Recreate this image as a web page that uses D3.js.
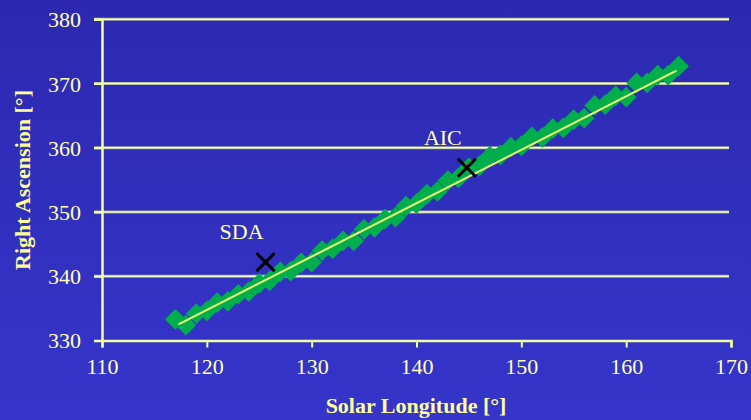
<!DOCTYPE html>
<html>
<head>
<meta charset="utf-8">
<script src="https://cdn.jsdelivr.net/npm/d3@7"></script>
<style>
  body { margin: 0; background: #3030c0; }
  svg { display: block; }
  text { font-family: "Liberation Serif", "Times New Roman", "DejaVu Serif", serif; }
</style>
</head>
<body>
<svg width="751" height="420"></svg>
<script>
// solar longitude vs right ascension
var solarLon = [117, 118, 119, 120, 121, 122, 123, 124, 125, 126, 127, 128, 129, 130,
    131, 132, 133, 134, 135, 136, 137, 138, 139, 140, 141, 142, 143, 144, 145, 146,
    147, 148, 149, 150, 151, 152, 153, 154, 155, 156, 157, 158, 159, 160, 161, 162,
    163, 164, 165];
var rightAsc = [333.3, 332.4, 334.2, 334.6, 335.9, 336.1, 337.2, 337.6, 338.9, 339.3,
    340.7, 340.8, 342.1, 342.2, 344.0, 344.3, 345.5, 345.5, 347.3, 347.6, 348.9, 349.2,
    350.9, 351.3, 352.8, 353.2, 354.9, 355.3, 356.9, 357.2, 358.7, 358.9, 360.1, 360.3,
    361.7, 361.6, 363.0, 363.1, 364.4, 364.6, 366.6, 366.7, 368.1, 367.9, 370.1, 370.1,
    371.3, 371.3, 372.7];

// linear fit end points
var fitLon = [117.3, 164.8];
var fitAsc = [332.5, 372.0];

// showers
var showerNames = ["SDA", "AIC"];
var showerLon = [125.6, 144.8];
var showerAsc = [342.2, 356.9];

var xTicks = [110, 120, 130, 140, 150, 160, 170];
var yTicks = [330, 340, 350, 360, 370, 380];

var svg = d3.select("svg"),
    width = +svg.attr("width"),
    height = +svg.attr("height");

var serif = "Liberation Serif, Times New Roman, DejaVu Serif, serif";

// background gradient
var defs = svg.append("defs");
var grad = defs.append("linearGradient")
    .attr("id", "bg")
    .attr("x1", 0).attr("y1", 0).attr("x2", 0).attr("y2", 1);
grad.append("stop").attr("offset", "0%").attr("stop-color", "#2c29b0");
grad.append("stop").attr("offset", "100%").attr("stop-color", "#3535cb");
svg.append("rect")
    .attr("width", width)
    .attr("height", height)
    .attr("fill", "url(#bg)");

var x = d3.scaleLinear().domain([110, 170]).range([102, 731]);
var y = d3.scaleLinear().domain([330, 380]).range([340.5, 19.3]);

var textColor = "#ffffb4";
var axisColor = "#f0ffa0";

// gridlines
svg.append("g")
    .selectAll("line")
    .data(yTicks.slice(1))
    .enter()
    .append("line")
    .attr("x1", x(110) - 8)
    .attr("x2", x(170) - 2)
    .attr("y1", function (d) { return y(d); })
    .attr("y2", function (d) { return y(d); })
    .attr("stroke", "#a4ac98")
    .attr("stroke-width", 3);
svg.append("g")
    .selectAll("line")
    .data(yTicks.slice(1))
    .enter()
    .append("line")
    .attr("x1", x(110) - 8)
    .attr("x2", x(170) - 2)
    .attr("y1", function (d) { return y(d); })
    .attr("y2", function (d) { return y(d); })
    .attr("stroke", "#f2ffc0")
    .attr("stroke-width", 1.5);

// axes
var xAxis = svg.append("g")
    .attr("transform", "translate(0," + y(330) + ")")
    .call(d3.axisBottom(x).tickValues(xTicks).tickSize(7).tickPadding(10).tickFormat(d3.format("d")));
var yAxis = svg.append("g")
    .attr("transform", "translate(" + x(110) + ",0)")
    .call(d3.axisLeft(y).tickValues(yTicks).tickSize(8).tickPadding(13).tickFormat(d3.format("d")));

[xAxis, yAxis].forEach(function (a) {
    a.attr("font-family", serif).attr("font-size", 22);
    a.select(".domain").attr("stroke", axisColor).attr("stroke-width", 2.5);
    a.selectAll(".tick line").attr("stroke", axisColor).attr("stroke-width", 2);
    a.selectAll(".tick text").attr("fill", textColor);
});
xAxis.selectAll(".tick text").attr("dy", "0.75em");
yAxis.selectAll(".tick text").attr("dy", "0.34em");

// green diamonds
var diamond = d3.symbol().type(d3.symbolSquare).size(215);
svg.append("g")
    .selectAll("path")
    .data(solarLon)
    .enter()
    .append("path")
    .attr("d", diamond)
    .attr("transform", function (d, i) {
        return "translate(" + x(d) + "," + y(rightAsc[i]) + ") rotate(45)";
    })
    .attr("fill", "#00ae4c");

// fit line
svg.append("line")
    .attr("x1", x(fitLon[0]))
    .attr("y1", y(fitAsc[0]))
    .attr("x2", x(fitLon[1]))
    .attr("y2", y(fitAsc[1]))
    .attr("stroke", "#eeff70")
    .attr("stroke-width", 2);

// shower markers
var mk = svg.append("g")
    .selectAll("g")
    .data(showerNames)
    .enter()
    .append("g")
    .attr("transform", function (d, i) {
        return "translate(" + x(showerLon[i]) + "," + y(showerAsc[i]) + ")";
    });
mk.append("path")
    .attr("d", "M-9,-9L9,9M-9,9L9,-9")
    .attr("stroke", "#000")
    .attr("stroke-width", 3)
    .attr("fill", "none");
mk.append("text")
    .attr("x", -24)
    .attr("y", -23)
    .attr("text-anchor", "middle")
    .attr("fill", textColor)
    .attr("font-family", serif)
    .attr("font-size", 22)
    .text(function (d) { return d; });

// axis titles
svg.append("text")
    .attr("x", 416)
    .attr("y", 413)
    .attr("text-anchor", "middle")
    .attr("fill", "#ffff98")
    .attr("font-family", serif)
    .attr("font-weight", "bold")
    .attr("font-size", 22)
    .text("Solar Longitude [°]");

svg.append("text")
    .attr("transform", "translate(30,180) rotate(-90)")
    .attr("text-anchor", "middle")
    .attr("fill", "#ffff98")
    .attr("font-family", serif)
    .attr("font-weight", "bold")
    .attr("font-size", 22)
    .text("Right Ascension [°]");
</script>
</body>
</html>
